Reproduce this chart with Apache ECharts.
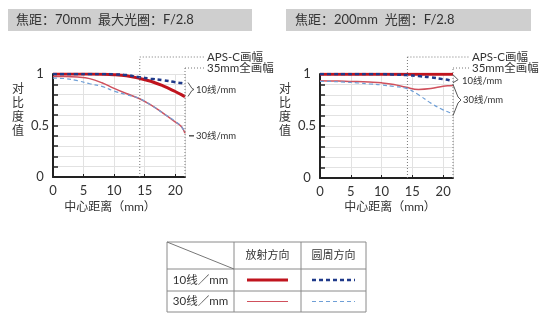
<!DOCTYPE html>
<html><head><meta charset="utf-8">
<script src="https://cdn.jsdelivr.net/npm/echarts@6/dist/echarts.min.js"></script>
<style>html,body{margin:0;padding:0;background:#fff}#c{width:540px;height:321px}</style>
</head><body><div id="c"></div>
<script>
// ---- data ----
const dist = [0, 2, 4, 6, 8, 10, 12, 14, 16, 18, 20, 21, 21.6];
// 70mm F/2.8
const r10_70 = [1, 1, 1, 1, 0.998, 0.993, 0.982, 0.96, 0.93, 0.885, 0.83, 0.80, 0.78];
const t10_70 = [1, 1, 1, 1, 1, 0.997, 0.99, 0.97, 0.955, 0.94, 0.92, 0.912, 0.905];
const r30_70 = [0.975, 0.975, 0.97, 0.955, 0.915, 0.86, 0.81, 0.765, 0.70, 0.62, 0.535, 0.49, 0.425];
const t30_70 = [0.96, 0.955, 0.935, 0.905, 0.88, 0.835, 0.80, 0.765, 0.70, 0.62, 0.54, 0.49, 0.43];
// 200mm F/2.8
const r10_200 = [0.998, 0.998, 0.998, 0.998, 0.998, 0.998, 0.998, 0.997, 0.997, 0.997, 0.997, 0.997, 0.997];
const t10_200 = [1, 1, 1, 1, 1, 1, 0.995, 0.99, 0.98, 0.968, 0.95, 0.94, 0.93];
const r30_200 = [0.935, 0.933, 0.93, 0.927, 0.922, 0.915, 0.9, 0.872, 0.852, 0.86, 0.882, 0.888, 0.89];
const t30_200 = [0.93, 0.928, 0.922, 0.915, 0.905, 0.895, 0.88, 0.862, 0.80, 0.72, 0.655, 0.63, 0.615];
const xTicks = [0, 5, 10, 15, 20];
const yLabels = ['0', '0.5', '1'];
const apsC = 14.2, fullFrame = 21.6;
const titles = ['焦距：70mm  最大光圈：F/2.8', '焦距：200mm  光圈：F/2.8'];
const rowLabels = ['10线／mm', '30线／mm'];
const colLabels = ['放射方向', '圆周方向'];

const FONT = 'Lato, "Noto Sans CJK SC", sans-serif';
const C = { r10: '#c0141e', t10: '#1f3a8a', r30: '#d0505c', t30: '#6f9fd6' };

const chart = echarts.init(document.getElementById('c'), null, { renderer: 'canvas' });
const pts = a => dist.map((d, i) => [d, a[i]]);

function xAxis(gi) {
  return {
    gridIndex: gi, type: 'value', min: 0, max: fullFrame, interval: 5,
    axisLine: { lineStyle: { color: '#222', width: 2 } },
    axisTick: { show: true, inside: true, length: 3, lineStyle: { color: '#222' } },
    axisLabel: { color: '#333', fontSize: 13, fontFamily: FONT, margin: 7, showMaxLabel: false,
      formatter: v => xTicks.includes(v) ? String(v) : '' },
    splitLine: { show: true, lineStyle: { color: '#e2e2e2', width: 1 } }
  };
}
function yAxis(gi) {
  return {
    gridIndex: gi, type: 'value', min: 0, max: 1, interval: 0.1,
    axisLine: { show: true, lineStyle: { color: '#222', width: 2 } },
    axisTick: { show: true, inside: true, length: 5, lineStyle: { color: '#222', width: 1.5 } },
    axisLabel: { color: '#333', fontSize: 13, fontFamily: FONT, align: 'center', margin: 13,
      formatter: v => { const s = String(Math.round(v * 10) / 10); return yLabels.includes(s) ? s : ''; } },
    splitLine: { show: true, lineStyle: { color: '#e2e2e2', width: 1 } }
  };
}
function ser(gi, data, color, width, dashed, z) {
  return { type: 'line', xAxisIndex: gi, yAxisIndex: gi, data: pts(data), smooth: 0.4, symbol: 'none',
    lineStyle: { color, width, type: dashed ? [4, 3] : 'solid' }, z, silent: true };
}

chart.setOption({
  animation: false,
  grid: [
    { left: 53, right: 355, top: 74, bottom: 144 },
    { left: 320, right: 87, top: 74, bottom: 143 }
  ],
  xAxis: [xAxis(0), xAxis(1)],
  yAxis: [yAxis(0), yAxis(1)],
  series: [
    ser(0, r30_70, C.r30, 1.5, false, 2), ser(0, t30_70, C.t30, 1.2, true, 3),
    ser(0, r10_70, C.r10, 3, false, 4), ser(0, t10_70, C.t10, 2.5, true, 5),
    ser(1, r30_200, C.r30, 1.5, false, 2), ser(1, t30_200, C.t30, 1.2, true, 3),
    ser(1, r10_200, C.r10, 3, false, 4), ser(1, t10_200, C.t10, 2.5, true, 5)
  ]
});

// ---- annotations ----
const g = [];
const dot = { stroke: '#777', lineWidth: 1, lineDash: [1, 2] };
const txt = (x, y, text, size, align, extra) => g.push(Object.assign({ type: 'text', x, y,
  style: { text, font: size + 'px ' + FONT, fill: '#333', align: align || 'left', verticalAlign: 'middle' }, z: 10 }, extra || {}));
const line = (x1, y1, x2, y2, style) => g.push({ type: 'line', shape: { x1, y1, x2, y2 }, style, z: 10 });
const poly = (points, style) => g.push({ type: 'polyline', shape: { points }, style: Object.assign({ fill: null }, style), z: 10 });

const tbar = [[8, 252], [286, 531]];
[0, 1].forEach(gi => {
  g.push({ type: 'rect', shape: { x: tbar[gi][0], y: 9, width: tbar[gi][1] - tbar[gi][0], height: 22 }, style: { fill: '#cfcfcf' }, z: 1 });
  txt(tbar[gi][0] + (gi ? 9 : 8), 20, titles[gi], 13);
  const a0 = chart.convertToPixel({ gridIndex: gi }, [apsC, 0]);
  const f0 = chart.convertToPixel({ gridIndex: gi }, [fullFrame, 0]);
  const textX = gi ? 472 : 207;
  line(a0[0], a0[1], a0[0], 57, dot);
  line(a0[0], 57, textX - 3, 57, dot);
  line(f0[0], f0[1], f0[0], 68, dot);
  line(f0[0], 68, textX - 3, 68, dot);
  txt(textX, 57, 'APS-C画幅', 11.5);
  txt(textX, 68, '35mm全画幅', 11.5);
  const yp = chart.convertToPixel({ gridIndex: gi }, [0, 0.6]);
  txt(gi ? 285 : 18, yp[1] - 5, '对\n比\n度\n值', 12, 'center', { style: { text: '对\n比\n度\n值', font: '12px ' + FONT, fill: '#333', align: 'center', verticalAlign: 'middle', lineHeight: 14 } });
  txt(gi ? 390 : 110, 207, '中心距离（mm）', 12, 'center');
  const ex = f0[0];
  if (gi === 0) {
    const p10 = chart.convertToPixel({ gridIndex: 0 }, [fullFrame, 0.85])[1];
    poly([[ex + 3, p10 - 7], [ex + 7, p10 - 1], [ex + 9, p10], [ex + 7, p10 + 1], [ex + 3, p10 + 7]], { stroke: '#555', lineWidth: 1 });
    txt(ex + 11, p10, '10线/mm', 9.5);
    const p30 = chart.convertToPixel({ gridIndex: 0 }, [fullFrame, 0.40])[1];
    line(ex + 4, p30, ex + 9, p30, { stroke: '#555', lineWidth: 1.5 });
    txt(ex + 11, p30, '30线/mm', 9.5);
  } else {
    const p10 = chart.convertToPixel({ gridIndex: 1 }, [fullFrame, 0.945])[1];
    poly([[ex + 0, p10 - 5], [ex + 5, p10], [ex + 0, p10 + 3]], { stroke: '#555', lineWidth: 1 });
    txt(ex + 9, p10 + 1, '10线/mm', 9.5);
    const a = chart.convertToPixel({ gridIndex: 1 }, [fullFrame, 0.90])[1];
    const b = chart.convertToPixel({ gridIndex: 1 }, [fullFrame, 0.60])[1];
    const m = (a + b) / 2;
    poly([[ex + 0, a], [ex + 5, m - 3], [ex + 8, m], [ex + 5, m + 3], [ex + 0, b]], { stroke: '#555', lineWidth: 1 });
    txt(ex + 10, m, '30线/mm', 9.5);
  }
});

// ---- legend table ----
const T = { l: 167, r: 366, t: 242, b: 312, c1: 234, c2: 301, r1: 269, r2: 291 };
const bs = { stroke: '#8a8a8a', lineWidth: 1 };
g.push({ type: 'rect', shape: { x: T.l, y: T.t, width: T.r - T.l, height: T.b - T.t }, style: { fill: null, stroke: '#8a8a8a', lineWidth: 1 }, z: 10 });
line(T.c1, T.t, T.c1, T.b, bs);
line(T.c2, T.t, T.c2, T.b, bs);
line(T.l, T.r1, T.r, T.r1, bs);
line(T.l, T.r2, T.r, T.r2, bs);
line(T.l, T.t, T.c1, T.r1, { stroke: '#777', lineWidth: 1 });
txt((T.c1 + T.c2) / 2, (T.t + T.r1) / 2, colLabels[0], 11, 'center');
txt((T.c2 + T.r) / 2, (T.t + T.r1) / 2, colLabels[1], 11, 'center');
const rowY = [(T.r1 + T.r2) / 2, (T.r2 + T.b) / 2];
txt((T.l + T.c1) / 2, rowY[0], rowLabels[0], 11.5, 'center');
txt((T.l + T.c1) / 2, rowY[1], rowLabels[1], 11.5, 'center');
line(247, rowY[0], 288, rowY[0], { stroke: C.r10, lineWidth: 3 });
line(312, rowY[0], 355, rowY[0], { stroke: C.t10, lineWidth: 2.5, lineDash: [4, 3] });
line(247, rowY[1], 288, rowY[1], { stroke: C.r30, lineWidth: 1.2 });
line(312, rowY[1], 355, rowY[1], { stroke: C.t30, lineWidth: 1.2, lineDash: [4, 3] });

chart.setOption({ graphic: { elements: g } });
</script></body></html>
